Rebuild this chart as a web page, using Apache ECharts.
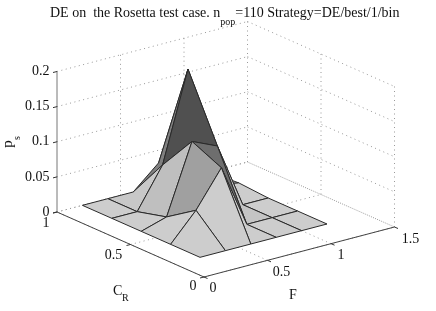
<!DOCTYPE html>
<html><head><meta charset="utf-8">
<style>html,body{margin:0;padding:0;background:#fff}#c{width:436px;height:311px}</style>
<script src="https://cdn.jsdelivr.net/npm/echarts@6/dist/echarts.min.js"></script>
</head><body><div id="c"></div>
<script>
// --- data ---
const fValues = [0.2, 0.4, 0.6, 0.8, 1.0, 1.2];
const crValues = [0.2, 0.4, 0.6, 0.8, 1.0];
const ps_cr02 = [0, 0, 0, 0, 0, 0];
const ps_cr04 = [0, 0.039, 0.09, 0, 0, 0];
const ps_cr06 = [0, 0.011, 0.109, 0.093, 0, 0];
const ps_cr08 = [0, 0, 0.057, 0.184, 0.01, 0.003];
const ps_cr10 = [0, 0, 0, 0.032, 0, 0];
const zTicks = [0, 0.05, 0.1, 0.15, 0.2];
const crTicks = [0, 0.5, 1];
const fTicks = [0, 0.5, 1, 1.5];
const titleText = 'DE on  the Rosetta test case. n';
const titleTail = '=110 Strategy=DE/best/1/bin';

const ps = [ps_cr02, ps_cr04, ps_cr06, ps_cr08, ps_cr10];
const FMAX = 1.5, CRMAX = 1, ZMAX = 0.2;

// view projection of the 3-D box
function proj(f, cr, z) {
  return [204 + 127 * f - 147 * cr, 277 - 33.33 * f - 65 * cr - 702.5 * z];
}

// face shades (surface lit from the front)
const LIGHT = '#cdcdcd';
const shadeOverrides = {
  '1,1': '#a0a0a0', '1,2': '#bfbfbf', '1,3': '#c8c8c8',
  '2,1': '#6e6e6e', '2,2': '#505050', '2,3': '#808080',
  '3,2': '#585858', '3,3': '#808080', '3,1': '#c4c4c4'
};

// --- segments ---
const dotted = [];
zTicks.forEach(z => {
  dotted.push([0, CRMAX, z, FMAX, CRMAX, z]);
  dotted.push([FMAX, CRMAX, z, FMAX, 0, z]);
});
fTicks.forEach(f => {
  if (f > 0) dotted.push([f, CRMAX, 0, f, CRMAX, ZMAX]);
  dotted.push([f, 0, 0, f, CRMAX, 0]);
});
crTicks.forEach(c => {
  if (c < 1) dotted.push([FMAX, c, 0, FMAX, c, ZMAX]);
  dotted.push([0, c, 0, FMAX, c, 0]);
});

const axesSolid = [
  { a: [0, CRMAX, 0], b: [0, CRMAX, ZMAX], color: '#777' },
  { a: [0, CRMAX, 0], b: [0, 0, 0], color: '#444' },
  { a: [0, 0, 0], b: [FMAX, 0, 0], color: '#444' }
];
const tickDefs = [];
zTicks.forEach(z => tickDefs.push({ a: [0, CRMAX, z], dx: -4, dy: 1 }));
crTicks.forEach(c => tickDefs.push({ a: [0, c, 0], dx: -4, dy: 1 }));
fTicks.forEach(f => tickDefs.push({ a: [f, 0, 0], dx: 3.5, dy: 1.5 }));

// --- faces, back to front ---
const faces = [];
for (let j = crValues.length - 2; j >= 0; j--) {
  for (let i = fValues.length - 2; i >= 0; i--) faces.push([i, j]);
}

// --- labels ---
const labels = [];
zTicks.forEach(z => labels.push({ at: [0, CRMAX, z], dx: -7.5, dy: 0, text: String(z), align: 'right' }));
labels.push({ at: [0, 1, 0], dx: -11, dy: 11, text: '1', align: 'center' });
labels.push({ at: [0, 0.5, 0], dx: -17, dy: 11, text: '0.5', align: 'center' });
labels.push({ at: [0, 0, 0], dx: -11, dy: 9.5, text: '0', align: 'center' });
labels.push({ at: [0, 0, 0], dx: 9, dy: 11, text: '0', align: 'center' });
labels.push({ at: [0.5, 0, 0], dx: 14, dy: 12, text: '0.5', align: 'center' });
labels.push({ at: [1, 0, 0], dx: 10, dy: 11.5, text: '1', align: 'center' });
labels.push({ at: [1.5, 0, 0], dx: 16, dy: 12, text: '1.5', align: 'center' });

const FONT = '"Liberation Serif","Times New Roman",serif';
const chart = echarts.init(document.getElementById('c'));

function pt(api, p) { return api.coord(p); }

chart.setOption({
  animation: false,
  backgroundColor: '#fff',
  title: {
    left: 50, top: 6, padding: 0,
    text: '{m|' + titleText + '}{sub|pop}{m|' + titleTail + '}',
    textStyle: {
      fontFamily: FONT, fontSize: 14, fontWeight: 'normal', color: '#111',
      rich: {
        m: { fontFamily: FONT, fontSize: 14, color: '#111', lineHeight: 15, verticalAlign: 'top' },
        sub: { fontFamily: FONT, fontSize: 10, color: '#111', lineHeight: 21, verticalAlign: 'bottom' }
      }
    }
  },
  grid: { left: 0, right: 0, top: 0, bottom: 0 },
  xAxis: { type: 'value', min: 0, max: 436, show: false },
  yAxis: { type: 'value', min: 0, max: 311, inverse: true, show: false },
  series: [
    {
      type: 'custom', coordinateSystem: 'cartesian2d', silent: true, clip: false, z: 1,
      data: dotted.map((_, k) => [k]), encode: { x: 0 },
      renderItem(params, api) {
        const s = dotted[params.dataIndex];
        const a = pt(api, proj(s[0], s[1], s[2])), b = pt(api, proj(s[3], s[4], s[5]));
        return { type: 'line', shape: { x1: a[0], y1: a[1], x2: b[0], y2: b[1] },
          style: { stroke: '#999', lineWidth: 1, lineDash: [1, 3.5], fill: null } };
      }
    },
    {
      type: 'custom', coordinateSystem: 'cartesian2d', silent: true, clip: false, z: 2,
      data: axesSolid.map((_, k) => [k]), encode: { x: 0 },
      renderItem(params, api) {
        const s = axesSolid[params.dataIndex];
        const a = pt(api, proj(...s.a)), b = pt(api, proj(...s.b));
        return { type: 'line', shape: { x1: a[0], y1: a[1], x2: b[0], y2: b[1] },
          style: { stroke: s.color, lineWidth: 1, fill: null } };
      }
    },
    {
      type: 'custom', coordinateSystem: 'cartesian2d', silent: true, clip: false, z: 2,
      data: tickDefs.map((_, k) => [k]), encode: { x: 0 },
      renderItem(params, api) {
        const s = tickDefs[params.dataIndex];
        const a = pt(api, proj(...s.a));
        return { type: 'line', shape: { x1: a[0], y1: a[1], x2: a[0] + s.dx, y2: a[1] + s.dy },
          style: { stroke: '#333', lineWidth: 1, fill: null } };
      }
    },
    {
      type: 'custom', coordinateSystem: 'cartesian2d', silent: true, clip: false, z: 3,
      data: faces.map((_, k) => [k]), encode: { x: 0 },
      renderItem(params, api) {
        const [i, j] = faces[params.dataIndex];
        const corners = [[i, j], [i + 1, j], [i + 1, j + 1], [i, j + 1]];
        const points = corners.map(([a, b]) => pt(api, proj(fValues[a], crValues[b], ps[b][a])));
        return { type: 'polygon', shape: { points },
          style: { fill: shadeOverrides[i + ',' + j] || LIGHT, stroke: '#2a2a2a', lineWidth: 1, lineJoin: 'round' } };
      }
    },
    {
      type: 'custom', coordinateSystem: 'cartesian2d', silent: true, clip: false, z: 4,
      data: labels.map((_, k) => [k]), encode: { x: 0 },
      renderItem(params, api) {
        const l = labels[params.dataIndex];
        const a = pt(api, proj(...l.at));
        return { type: 'text', x: a[0] + l.dx, y: a[1] + l.dy,
          style: { text: l.text, textAlign: l.align, textVerticalAlign: 'middle',
            fontFamily: FONT, fontSize: 14, fill: '#111' } };
      }
    }
  ],
  graphic: [
    { type: 'text', x: 8, y: 144, rotation: Math.PI / 2,
      style: { text: 'p', fontFamily: FONT, fontSize: 15, fill: '#111', textAlign: 'center', textVerticalAlign: 'middle' } },
    { type: 'text', x: 17, y: 138, rotation: Math.PI / 2,
      style: { text: 's', fontFamily: FONT, fontSize: 10, fill: '#111', textAlign: 'center', textVerticalAlign: 'middle' } },
    { type: 'text', x: 113, y: 291, style: { text: 'C', fontFamily: FONT, fontSize: 14, fill: '#111', textVerticalAlign: 'middle' } },
    { type: 'text', x: 122, y: 298, style: { text: 'R', fontFamily: FONT, fontSize: 10, fill: '#111', textVerticalAlign: 'middle' } },
    { type: 'text', x: 293, y: 295, style: { text: 'F', fontFamily: FONT, fontSize: 14, fill: '#111', textAlign: 'center', textVerticalAlign: 'middle' } }
  ]
});
</script></body></html>
